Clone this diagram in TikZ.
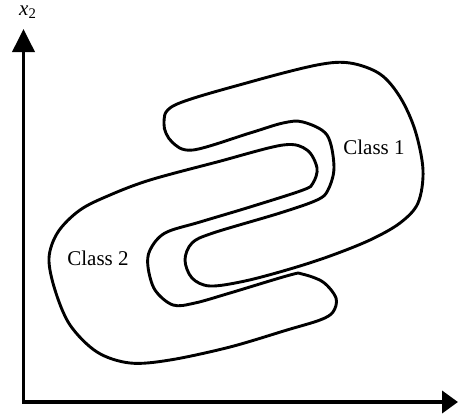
\documentclass[tikz,border=0pt]{standalone}
\usepackage{fontspec}
\setmainfont{Liberation Serif}
\usetikzlibrary{arrows.meta}
\tikzset{>={Triangle[length=16pt,width=22pt]}}
\tikzset{classline/.style={line width=2.9pt, smooth cycle, tension=0.55}}
\tikzset{classlabel/.style={font=\fontsize{21}{25}\selectfont, inner sep=0pt}}

\begin{document}
\begin{tikzpicture}[x=1pt, y=-1pt]
            \useasboundingbox (0, 0) rectangle (458, 416);
            % axes
            \coordinate (O) at (23.5, 402);
            \coordinate (xend) at (458, 402);
            \coordinate (yend) at (23.5, 29);
            \draw[line width=3.8pt, {Triangle[length=23pt, width=22pt]}->] (yend) -- (O) -- (xend);
            \node[classlabel, anchor=base west] (xtwo) at (19, 15.5) {\textit{x}\textsubscript{2}};
            % class 1
            \draw[classline] plot coordinates {(175, 105) (250, 82) (317, 65) (350, 63) (380, 74) (400, 97)
                (415, 130) (423, 170) (418, 203) (400, 223) (370, 240) (330, 256) (290, 269) (245, 281)
                (210, 286) (192, 278) (185, 260) (192, 243) (213, 233) (280, 213) (317, 200) (328, 190)
                (334, 167) (327, 135) (303, 122) (283, 123) (250, 133) (193, 150) (172, 142) (164, 124)};
            % class 2
            \draw[classline] plot coordinates {(150, 180) (217, 162) (283, 145) (307, 150) (317, 168)
                (313, 183) (303, 190) (250, 207) (200, 222) (165, 233) (150, 250) (148, 267) (155, 290)
                (173, 305) (195, 303) (230, 293) (290, 275) (302, 274) (323, 282) (336, 298) (333, 312)
                (320, 320) (287, 330) (230, 347) (170, 360) (130, 363) (97, 352) (70, 325) (55, 290)
                (49, 258) (58, 232) (80, 210) (110, 195)};
            \node[classlabel] (cone) at (374, 147) {Class 1};
            \node[classlabel] (ctwo) at (98, 258) {Class 2};
        \end{tikzpicture}
\end{document}
